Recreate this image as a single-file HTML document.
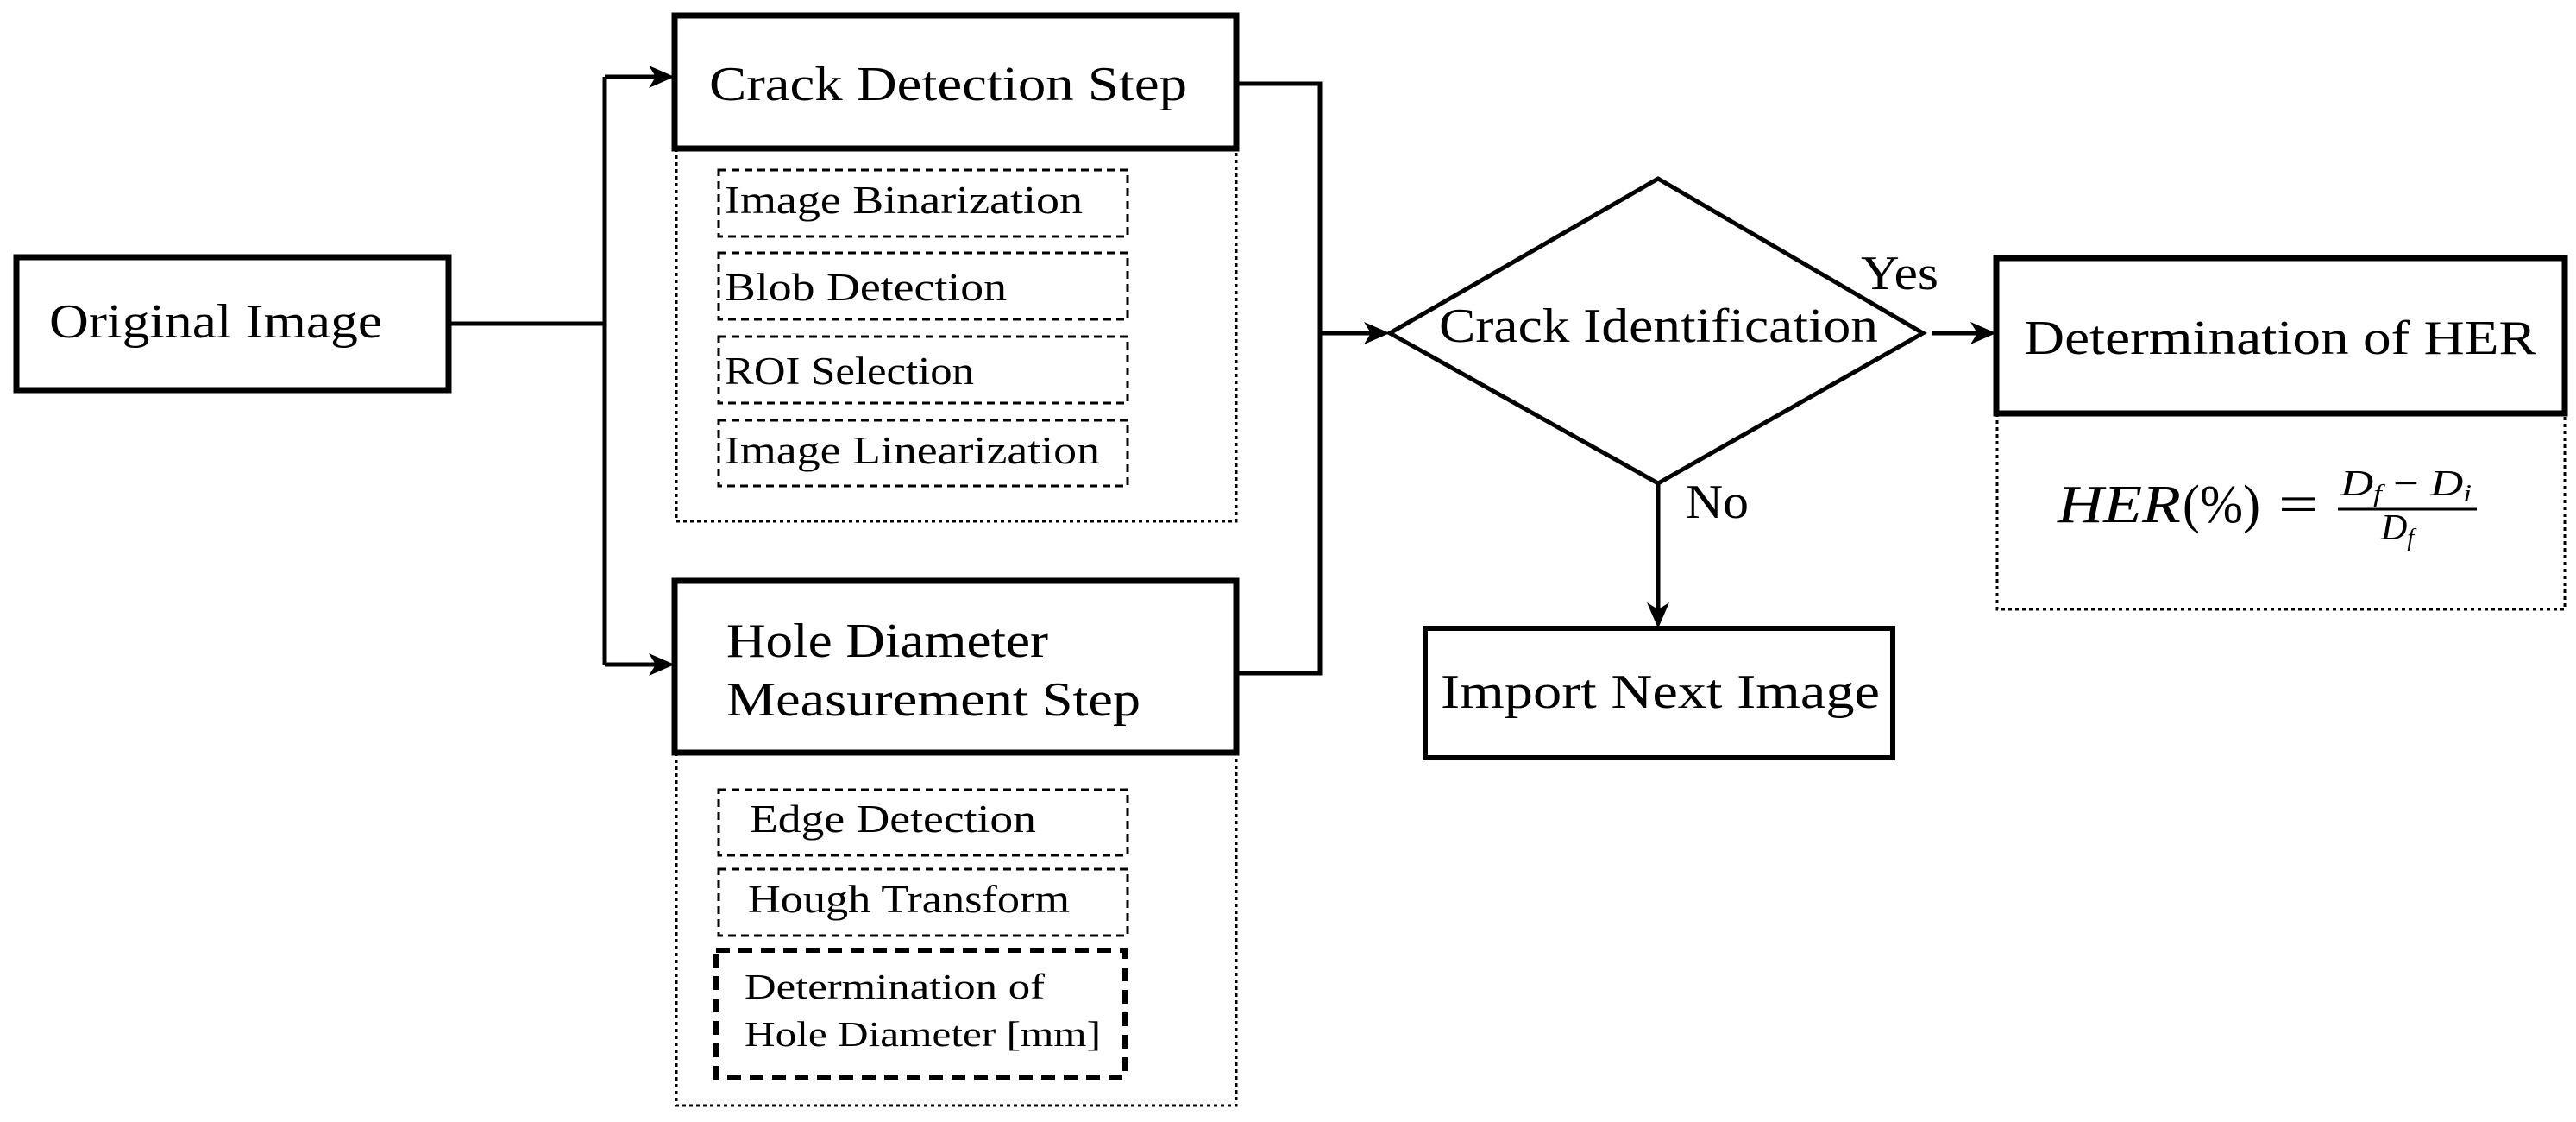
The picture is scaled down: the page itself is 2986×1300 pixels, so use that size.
<!DOCTYPE html>
<html><head><meta charset="utf-8"><style>
html,body{margin:0;padding:0;background:#fff;}
svg{display:block;}
text{font-family:"Liberation Serif",serif;fill:#000;}
</style></head><body>
<svg width="2986" height="1300" viewBox="0 0 2986 1300" xmlns="http://www.w3.org/2000/svg">
<g fill="none" stroke="#000">
<rect x="19" y="298" width="501" height="154" stroke-width="7"/>
<rect x="782" y="18" width="651" height="154" stroke-width="7"/>
<path d="M784 172 V604 H1433 V172" stroke-width="3" stroke-dasharray="4,4"/>
<rect x="833" y="197" width="474" height="77" stroke-width="3" stroke-dasharray="9,6"/>
<rect x="833" y="293" width="474" height="77" stroke-width="3" stroke-dasharray="9,6"/>
<rect x="833" y="390" width="474" height="77" stroke-width="3" stroke-dasharray="9,6"/>
<rect x="833" y="487" width="474" height="76" stroke-width="3" stroke-dasharray="9,6"/>
<rect x="782" y="673" width="651" height="199" stroke-width="7"/>
<path d="M784 872 V1281 H1433 V872" stroke-width="3" stroke-dasharray="4,4"/>
<rect x="833" y="915" width="474" height="76" stroke-width="3" stroke-dasharray="9,6"/>
<rect x="833" y="1007" width="474" height="77" stroke-width="3" stroke-dasharray="9,6"/>
<rect x="830" y="1101" width="474" height="147" stroke-width="6" stroke-dasharray="16,10"/>
<path d="M520 375 H701 M701 89 V770 M701 89 H770 M701 770 H770" stroke-width="5"/>
<path d="M1433 97 H1530 V780 H1433 M1530 386 H1598" stroke-width="5"/>
<polygon points="1611,386 1922,207 2229,386 1922,560" stroke-width="5"/>
<path d="M2239 386 H2302 M1922 560 V715" stroke-width="5"/>
<rect x="2314" y="299" width="659" height="180" stroke-width="7"/>
<path d="M2315 479 V706 H2973 V479" stroke-width="3" stroke-dasharray="4,4"/>
<rect x="1652" y="728" width="542" height="150" stroke-width="6"/>
</g>
<g fill="#000">
<polygon points="782,89 752,76 760,89 752,102"/>
<polygon points="782,770 752,757 760,770 752,783"/>
<polygon points="1611,386 1581,373 1589,386 1581,399"/>
<polygon points="2314,386 2284,373 2292,386 2284,399"/>
<polygon points="1922,728 1909,698 1922,706 1935,698"/>
</g>
<g font-size="56">
<text x="57" y="391" textLength="386" lengthAdjust="spacingAndGlyphs">Original Image</text>
<text x="822" y="116" textLength="554" lengthAdjust="spacingAndGlyphs">Crack Detection Step</text>
<text x="842" y="761" textLength="373" lengthAdjust="spacingAndGlyphs">Hole Diameter</text>
<text x="842" y="829" textLength="480" lengthAdjust="spacingAndGlyphs">Measurement Step</text>
<text x="1668" y="396" textLength="509" lengthAdjust="spacingAndGlyphs">Crack Identification</text>
<text x="2157" y="335" textLength="90" lengthAdjust="spacingAndGlyphs">Yes</text>
<text x="1954" y="600" textLength="73" lengthAdjust="spacingAndGlyphs">No</text>
<text x="2346" y="410" textLength="594" lengthAdjust="spacingAndGlyphs">Determination of HER</text>
<text x="1670" y="820" textLength="509" lengthAdjust="spacingAndGlyphs">Import Next Image</text>
</g>
<g font-size="45">
<text x="840" y="247" textLength="415" lengthAdjust="spacingAndGlyphs">Image Binarization</text>
<text x="840" y="348" textLength="327" lengthAdjust="spacingAndGlyphs">Blob Detection</text>
<text x="840" y="445" textLength="289" lengthAdjust="spacingAndGlyphs">ROI Selection</text>
<text x="840" y="537" textLength="435" lengthAdjust="spacingAndGlyphs">Image Linearization</text>
<text x="869" y="964" textLength="332" lengthAdjust="spacingAndGlyphs">Edge Detection</text>
<text x="867" y="1057" textLength="373" lengthAdjust="spacingAndGlyphs">Hough Transform</text>
</g>
<g font-size="41">
<text x="863" y="1157" textLength="348" lengthAdjust="spacingAndGlyphs">Determination of</text>
<text x="863" y="1212" textLength="413" lengthAdjust="spacingAndGlyphs">Hole Diameter [mm]</text>
</g>
<text x="2385" y="605" font-size="62" font-style="italic" textLength="143" lengthAdjust="spacingAndGlyphs">HER</text>
<text x="2530" y="605" font-size="62" textLength="90" lengthAdjust="spacingAndGlyphs">(%)</text>
<text x="2641" y="605" font-size="62" textLength="46" lengthAdjust="spacingAndGlyphs">=</text>
<line x1="2710" y1="590" x2="2871" y2="590" stroke="#000" stroke-width="3"/>
<text x="2713" y="574" font-size="42" font-style="italic" textLength="152" lengthAdjust="spacingAndGlyphs">D<tspan font-size="28" dy="7">f</tspan><tspan dy="-7" font-style="normal"> − </tspan>D<tspan font-size="28" dy="7">i</tspan></text>
<text x="2760" y="625" font-size="42" font-style="italic">D<tspan font-size="28" dy="7">f</tspan></text>
</svg>
</body></html>
